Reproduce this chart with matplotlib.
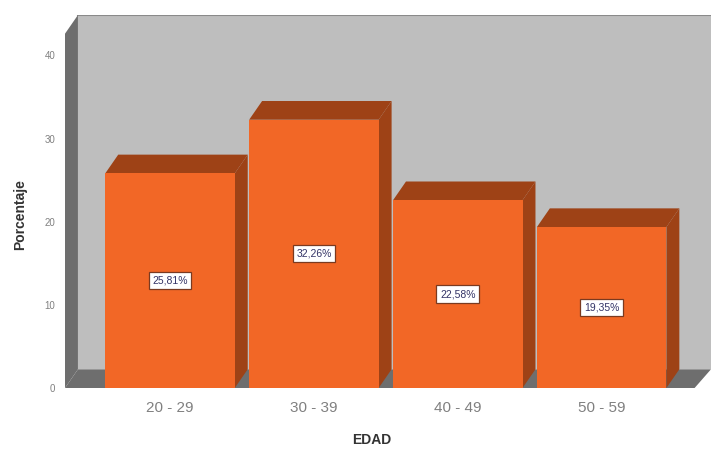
import matplotlib.pyplot as plt
from matplotlib.patches import Polygon, Rectangle

plt.rcParams['font.family'] = ['Liberation Sans', 'DejaVu Sans']

# datos
edades = ['20 - 29', '30 - 39', '40 - 49', '50 - 59']
porcentajes = [25.81, 32.26, 22.58, 19.35]
etiquetas = ['25,81%', '32,26%', '22,58%', '19,35%']

# colores estilo SPSS
naranja = '#F26726'
naranja_osc = '#9E4216'
gris_fondo = '#BEBEBE'
gris_osc = '#6E6E6E'

fig = plt.figure(figsize=(7.11, 4.5), dpi=100)
ax = fig.add_axes([65 / 711, 62 / 450, 646 / 711, 373 / 450])

# profundidad del efecto 3D (en unidades de datos)
dx, dy = 0.09, 2.25
w = 0.9
xL, xR_front, xR = -0.73, 3.646, 3.76
H = 42.6

# paredes y suelo
ax.add_patch(Rectangle((xL + dx, dy), xR - xL - dx, H, color=gris_fondo, lw=0, zorder=1))
ax.plot([xL + dx, xR], [H + dy, H + dy], color='#8A8A8A', lw=1.5, zorder=2)
ax.add_patch(Polygon([(xL, 0), (xL + dx, dy), (xL + dx, H + dy), (xL, H)], color=gris_osc, lw=0, zorder=2))
ax.add_patch(Polygon([(xL, 0), (xR_front, 0), (xR, dy), (xL + dx, dy)], color=gris_osc, lw=0, zorder=2))

# barras 3D
for i, v in enumerate(porcentajes):
    x0, x1 = i - w / 2, i + w / 2
    z = 3 + i
    ax.add_patch(Polygon([(x0, v), (x0 + dx, v + dy), (x1 + dx, v + dy), (x1, v)], color=naranja_osc, lw=0, zorder=z))
    ax.add_patch(Polygon([(x1, 0), (x1 + dx, dy), (x1 + dx, v + dy), (x1, v)], color=naranja_osc, lw=0, zorder=z))
    ax.add_patch(Rectangle((x0, 0), w, v, color=naranja, lw=0, zorder=z))
    ax.text(i, v / 2, etiquetas[i], ha='center', va='center', fontsize=7.5, color='#333366', zorder=10,
            bbox=dict(boxstyle='square,pad=0.35', fc='white', ec='#7A3A20', lw=0.9))

ax.set_xlim(xL, xR)
ax.set_ylim(0, H + dy)

ax.set_xticks(range(len(edades)))
ax.set_xticklabels(edades, fontsize=11, color='#808080')
ax.set_yticks([0, 10, 20, 30, 40])
ax.set_yticklabels(['0', '10', '20', '30', '40'], fontsize=7, color='#808080')
ax.tick_params(length=0)
ax.tick_params(axis='x', pad=9)
ax.tick_params(axis='y', pad=7)
for s in ax.spines.values():
    s.set_visible(False)

fig.text(20 / 711, 1 - 215 / 450, 'Porcentaje', rotation=90, ha='center', va='center',
         fontsize=10, fontweight='bold', color='#333333')
fig.text(372 / 711, 1 - 440 / 450, 'EDAD', ha='center', va='center',
         fontsize=10, fontweight='bold', color='#333333')

fig.savefig('out.png', dpi=100)
